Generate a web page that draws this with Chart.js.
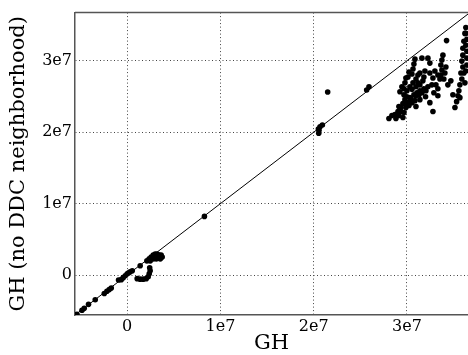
<!DOCTYPE html>
<html>
<head>
<meta charset="utf-8">
<script src="https://cdn.jsdelivr.net/npm/chart.js@4/dist/chart.umd.min.js"></script>
<style>
 html,body{margin:0;padding:0;background:#fff;overflow:hidden;}
 canvas{display:block;}
</style>
</head>
<body>
<canvas id="scatter" width="468" height="355"></canvas>
<script>
// GH vs GH (no DDC neighborhood)
var ghX = [
 34.25e6, 36.32e6, 36.22e6, 36.11e6, 36.0e6, 36.0e6, 35.89e6, 36.0e6, 36.11e6, 35.89e6,
 35.68e6, 35.57e6, 35.47e6, 35.33e6, 36.43e6, 36.43e6,
 33.86e6, 33.75e6, 33.64e6, 33.75e6, 33.64e6, 34.18e6, 34.39e6, 33.32e6, 32.79e6,
 31.39e6, 31.93e6, 32.46e6, 33.0e6, 32.46e6, 32.25e6, 31.61e6,
 30.86e6, 30.75e6, 30.65e6, 30.54e6,
 28.71e6, 29.04e6, 29.36e6, 29.68e6, 29.57e6, 29.89e6, 30.11e6, 30.43e6, 30.75e6, 31.07e6,
 31.39e6, 31.82e6, 32.25e6, 32.68e6, 29.46e6, 29.25e6, 29.68e6, 30.0e6, 30.32e6, 30.65e6,
 31.18e6, 31.71e6, 30.11e6, 30.22e6, 30.32e6, 29.79e6, 30.86e6, 31.39e6, 32.0e6, 28.39e6,
 33.11e6, 33.54e6, 33.96e6,
 29.89e6, 29.79e6, 29.68e6, 30.0e6, 29.79e6, 29.57e6, 29.36e6, 29.14e6, 28.82e6, 30.22e6,
 30.54e6, 30.97e6, 31.29e6, 31.61e6, 32.04e6, 30.54e6, 30.97e6, 31.39e6, 30.97e6, 31.18e6,
 31.82e6, 32.79e6, 33.32e6, 34.07e6, 34.71e6, 34.93e6, 33.32e6, 32.89e6, 32.46e6, 30.97e6,
 28.07e6, 29.14e6,
 36.32e6, 36.43e6, 36.32e6, 36.43e6, 36.32e6, 36.22e6, 35.79e6, 35.68e6, 35.15e6,
 21.5e6, 25.68e6, 25.93e6, 20.93e6, 20.68e6, 20.5e6, 20.54e6, 20.57e6,
 8.28e6,
 -5.39e6, -4.85e6, -4.61e6, -4.15e6, -3.43e6, -2.46e6, -2.18e6, -1.93e6, -1.71e6, -0.93e6,
 -0.64e6, -0.43e6, -0.21e6, 0.0, 0.16e6, 0.32e6, 0.54e6, 1.39e6, 2.11e6,
 2.36e6, 2.57e6, 2.79e6, 3.0e6, 3.21e6, 3.43e6, 3.64e6, 3.75e6, 3.54e6, 3.11e6, 2.79e6, 3.32e6, 2.46e6,
 1.07e6, 1.39e6, 1.71e6, 2.04e6, 2.25e6, 2.36e6, 2.46e6, 2.41e6
];
var ghNoDDC = [
 32.83e6, 34.67e6, 33.84e6, 32.73e6, 31.76e6, 30.79e6, 29.96e6, 29.13e6, 28.30e6, 27.46e6,
 26.63e6, 25.80e6, 25.11e6, 24.28e6, 31.34e6, 29.4e6,
 30.79e6, 30.10e6, 29.40e6, 28.71e6, 28.02e6, 29.13e6, 26.63e6, 25.11e6, 22.89e6,
 28.30e6, 28.57e6, 28.30e6, 28.57e6, 29.68e6, 30.37e6, 30.37e6,
 30.23e6, 29.54e6, 28.85e6, 28.16e6,
 22.48e6, 22.89e6, 23.45e6, 22.76e6, 22.06e6, 23.45e6, 24.14e6, 24.70e6, 25.25e6, 25.53e6,
 25.80e6, 26.08e6, 26.36e6, 26.63e6, 26.36e6, 25.66e6, 25.25e6, 25.80e6, 26.36e6, 26.91e6,
 26.91e6, 27.19e6, 27.74e6, 28.43e6, 24.84e6, 24.14e6, 24.42e6, 24.56e6, 24.97e6, 22.34e6,
 26.63e6, 27.46e6, 27.46e6,
 27.6e6, 26.91e6, 26.08e6, 24.97e6, 24.56e6, 24.0e6, 22.89e6, 22.34e6, 21.92e6, 23.73e6,
 24.14e6, 25.11e6, 25.25e6, 25.53e6, 25.80e6, 26.0e6, 26.36e6, 26.63e6, 27.46e6, 28.02e6,
 27.74e6, 27.6e6, 28.02e6, 28.30e6, 27.19e6, 25.25e6, 26.08e6, 25.53e6, 24.14e6, 23.59e6,
 21.92e6, 23.59e6,
 33.84e6, 33.0e6, 32.17e6, 30.37e6, 28.57e6, 26.91e6, 28.30e6, 24.84e6, 23.45e6,
 25.62e6, 25.90e6, 26.36e6, 21.0e6, 20.75e6, 20.44e6, 19.85e6, 20.26e6,
 8.21e6,
 -5.50e6, -4.94e6, -4.67e6, -4.11e6, -3.46e6, -2.59e6, -2.27e6, -2.04e6, -1.83e6, -0.69e6,
 -0.65e6, -0.37e6, -0.10e6, 0.18e6, 0.32e6, 0.46e6, 0.60e6, 1.29e6, 1.98e6,
 2.26e6, 2.53e6, 2.81e6, 2.95e6, 2.95e6, 2.81e6, 2.81e6, 2.53e6, 2.26e6, 2.26e6, 2.26e6, 2.53e6, 1.98e6,
 -0.51e6, -0.58e6, -0.58e6, -0.51e6, -0.24e6, 0.18e6, 0.60e6, 1.01e6
];
// y = x reference line ends
var diagEnds = [-5.6e6, 37e6];
var tickVals = [0, 1e7, 2e7, 3e7];
var tickLabels = ["0", "1e7", "2e7", "3e7"];

var pts = ghX.map(function(v, i){ return {x: v, y: ghNoDDC[i]}; });
var diag = diagEnds.map(function(v){ return {x: v, y: v}; });

var serif = "'DejaVu Serif', serif";

// matplotlib-like top frame line
var frameTop = {
 id: 'frameTop',
 afterDraw: function(chart){
  var a = chart.chartArea, c = chart.ctx;
  c.save();
  c.strokeStyle = '#555';
  c.lineWidth = 1.5;
  c.beginPath();
  c.moveTo(a.left, a.top);
  c.lineTo(a.right, a.top);
  c.stroke();
  c.restore();
 }
};

function fixTicks(scale){
 scale.ticks = tickVals.map(function(v){ return {value: v}; });
}

new Chart(document.getElementById('scatter'), {
 type: 'scatter',
 data: {
  datasets: [
   {
    type: 'line',
    data: diag,
    borderColor: '#000',
    borderWidth: 1,
    pointRadius: 0,
    pointHoverRadius: 0,
    fill: false
   },
   {
    data: pts,
    backgroundColor: '#000',
    borderWidth: 0,
    pointRadius: 2.8
   }
  ]
 },
 options: {
  responsive: false,
  animation: false,
  devicePixelRatio: 1,
  layout: {autoPadding: false, padding: {top: 9, right: 0, left: 0, bottom: 0}},
  plugins: {legend: {display: false}, tooltip: {enabled: false}},
  scales: {
   x: {
    type: 'linear',
    min: -5.6e6,
    max: 36.55e6,
    afterBuildTicks: fixTicks,
    afterFit: function(s){ s.height = 40; },
    ticks: {
     color: '#000',
     font: {family: serif, size: 16},
     padding: 2,
     maxRotation: 0,
     callback: function(v){ return tickLabels[tickVals.indexOf(v)]; }
    },
    grid: {color: '#444', lineWidth: 1, drawTicks: false},
    border: {display: true, color: '#555', width: 1.5, dash: [1, 2.5]},
    title: {display: true, text: 'GH', color: '#000', font: {family: serif, size: 21, lineHeight: 1}, padding: {top: 0, bottom: 1}}
   },
   y: {
    type: 'linear',
    min: -5.6e6,
    max: 36.75e6,
    afterBuildTicks: fixTicks,
    afterFit: function(s){ s.width = 75; },
    ticks: {
     color: '#000',
     font: {family: serif, size: 16},
     padding: 3,
     callback: function(v){ return tickLabels[tickVals.indexOf(v)]; }
    },
    grid: {color: '#444', lineWidth: 1, drawTicks: false},
    border: {display: true, color: '#555', width: 1.5, dash: [1, 2.5]},
    title: {display: true, text: 'GH (no DDC neighborhood)', color: '#000', font: {family: serif, size: 21, lineHeight: 1}, padding: {top: 8, bottom: 0}}
   }
  }
 },
 plugins: [frameTop]
});
</script>
</body>
</html>
